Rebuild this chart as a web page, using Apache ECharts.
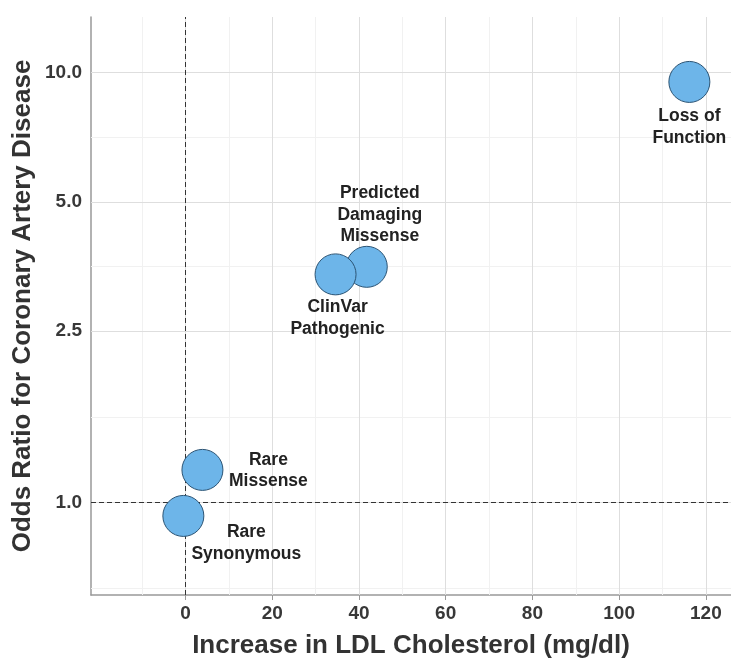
<!DOCTYPE html>
<html>
<head>
<meta charset="utf-8">
<script src="https://cdn.jsdelivr.net/npm/echarts@6/dist/echarts.min.js"></script>
<style>html,body{margin:0;padding:0;background:#fff}#c{width:731px;height:664px}</style>
</head>
<body>
<div id="c"></div>
<script>
// ---- data ----
var names = ['Predicted\nDamaging\nMissense', 'ClinVar\nPathogenic', 'Loss of\nFunction', 'Rare\nMissense', 'Rare\nSynonymous'];
var ldlIncrease = [41.8, 34.6, 116.2, 3.9, -0.5];
var oddsRatio = [3.53, 3.39, 9.50, 1.19, 0.93];
var xTicks = [0, 20, 40, 60, 80, 100, 120];
var xMinorTicks = [-10, 10, 30, 50, 70, 90, 110];
var yTicks = [1.0, 2.5, 5.0, 10.0];
var yTickLabels = ['1.0', '2.5', '5.0', '10.0'];
var yMinorTicks = [0.632, 1.58, 3.54, 7.07];
var refX = 0, refY = 1.0;

// ---- styling (not data) ----
var labelOffsets = [[13, -52], [2, 44], [0, 45], [66, 1], [63, 27]];
var FONT = '"Liberation Sans", Arial, Helvetica, sans-serif';

var chart = echarts.init(document.getElementById('c'));

var pts = names.map(function (n, i) {
  return {
    value: [ldlIncrease[i], oddsRatio[i]],
    name: n,
    label: { offset: labelOffsets[i] }
  };
});

var gridLines = [];
xMinorTicks.forEach(function (v) { gridLines.push({ xAxis: v, lineStyle: { color: '#f1f1f1', width: 1, type: 'solid' }, label: { show: false } }); });
yMinorTicks.forEach(function (v) { gridLines.push({ yAxis: v, lineStyle: { color: '#f1f1f1', width: 1, type: 'solid' }, label: { show: false } }); });
xTicks.forEach(function (v) { gridLines.push({ xAxis: v, lineStyle: { color: '#dedede', width: 1, type: 'solid' }, label: { show: false } }); });
yTicks.forEach(function (v, i) {
  gridLines.push({
    yAxis: v,
    lineStyle: { color: '#dedede', width: 1, type: 'solid' },
    label: { show: true, position: 'start', formatter: yTickLabels[i], distance: 9, color: '#383838', fontSize: 19, fontWeight: 'bold', fontFamily: FONT }
  });
});

var refLines = [
  { xAxis: refX },
  { yAxis: refY }
];

chart.setOption({
  animation: false,
  backgroundColor: '#fff',
  grid: { left: 91, right: 0, top: 17, bottom: 62, containLabel: false },
  xAxis: {
    type: 'value',
    min: -21.8,
    max: 125.8,
    name: 'Increase in LDL Cholesterol (mg/dl)',
    nameLocation: 'middle',
    nameGap: 38,
    nameTextStyle: { fontSize: 26, fontWeight: 'bold', color: '#333', fontFamily: FONT },
    axisLine: { show: true, onZero: false, lineStyle: { color: '#999', width: 1.5 } },
    axisTick: { show: true, customValues: xTicks, length: 5, lineStyle: { color: '#999' } },
    axisLabel: { customValues: xTicks, fontSize: 19, fontWeight: 'bold', color: '#383838', margin: 9, fontFamily: FONT },
    splitLine: { show: false }
  },
  yAxis: {
    type: 'log',
    logBase: 10,
    min: 0.609,
    max: 13.45,
    name: 'Odds Ratio for Coronary Artery Disease',
    nameLocation: 'middle',
    nameGap: 55,
    nameTextStyle: { fontSize: 26, fontWeight: 'bold', color: '#333', fontFamily: FONT },
    axisLine: { show: true, onZero: false, lineStyle: { color: '#999', width: 1.5 } },
    axisTick: { show: false },
    axisLabel: { show: false },
    splitLine: { show: false }
  },
  series: [
    {
      type: 'scatter',
      data: [],
      silent: true,
      markLine: { silent: true, symbol: 'none', animation: false, data: gridLines }
    },
    {
      type: 'scatter',
      data: [],
      silent: true,
      z: 3,
      markLine: {
        silent: true, symbol: 'none', animation: false,
        lineStyle: { color: '#333', width: 1, type: [5, 3] },
        label: { show: false },
        data: refLines
      }
    },
    {
      type: 'scatter',
      z: 5,
      symbolSize: 41,
      data: pts,
      itemStyle: { color: '#6db5e9', borderColor: '#2b5373', borderWidth: 1, opacity: 1 },
      label: {
        show: true,
        position: 'inside',
        formatter: function (p) { return p.name; },
        color: '#222',
        fontWeight: 'bold',
        fontSize: 17.5,
        lineHeight: 21.5,
        fontFamily: FONT,
        align: 'center'
      },
      emphasis: { disabled: true }
    }
  ]
});
</script>
</body>
</html>
